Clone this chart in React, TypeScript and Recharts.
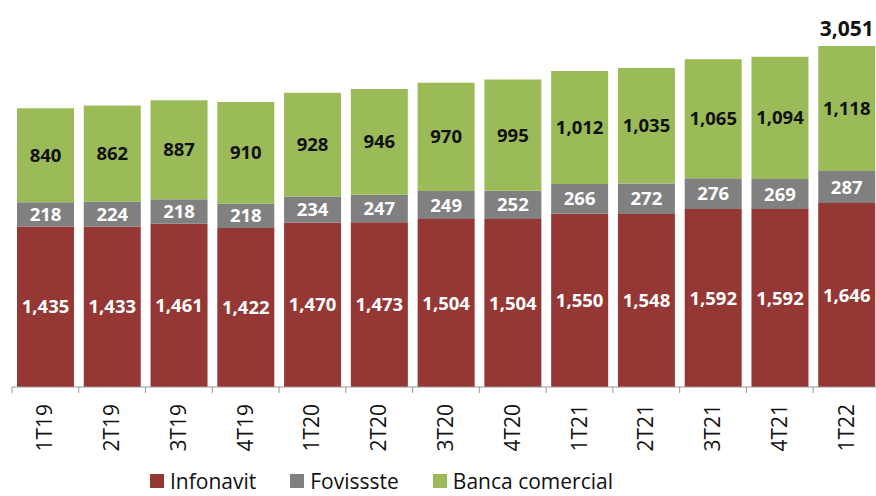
import { BarChart, Bar, XAxis, YAxis, Legend, LabelList } from 'recharts';

const quarters = ['1T19', '2T19', '3T19', '4T19', '1T20', '2T20', '3T20', '4T20', '1T21', '2T21', '3T21', '4T21', '1T22'];
const infonavit = [1435, 1433, 1461, 1422, 1470, 1473, 1504, 1504, 1550, 1548, 1592, 1592, 1646];
const fovissste = [218, 224, 218, 218, 234, 247, 249, 252, 266, 272, 276, 269, 287];
const banca = [840, 862, 887, 910, 928, 946, 970, 995, 1012, 1035, 1065, 1094, 1118];

const seriesNames = ['Infonavit', 'Fovissste', 'Banca comercial'];
const seriesColors = ['#953735', '#808080', '#9BBB59'];

const data = quarters.map((q, i) => ({
  q,
  infonavit: infonavit[i],
  fovissste: fovissste[i],
  banca: banca[i],
  total: infonavit[i] + fovissste[i] + banca[i],
}));

const FONT = '"Open Sans", sans-serif';
const fmt = (v: number) => v.toLocaleString('en-US');

function QuarterTick(props: any) {
  const { x, y, payload, index } = props;
  const half = 33.4;
  return (
    <g>
      <line x1={x - half} y1={y - 8} x2={x - half} y2={y - 2} stroke="#999" />
      {index === quarters.length - 1 && (
        <line x1={x + half} y1={y - 8} x2={x + half} y2={y - 2} stroke="#999" />
      )}
      <text
        x={0}
        y={0}
        transform={`translate(${x + 7},${y + 9}) rotate(-90)`}
        textAnchor="end"
        fontSize={21}
        fontFamily={FONT}
        fill="#111"
      >
        {payload.value}
      </text>
    </g>
  );
}

function TotalLabel(props: any) {
  const { x, y, width, index } = props;
  if (index !== quarters.length - 1) return null;
  return (
    <text x={x + width / 2} y={y - 10} textAnchor="middle" fontSize={21} fontWeight="bold" fontFamily={FONT} fill="#111">
      {fmt(data[index].total)}
    </text>
  );
}

function LegendBox() {
  return (
    <div style={{ display: 'flex', paddingLeft: 138, paddingTop: 11, fontFamily: FONT, fontSize: 21, color: '#111', lineHeight: '26px' }}>
      {seriesNames.map((n, i) => (
        <div key={n} style={{ display: 'flex', alignItems: 'center', marginRight: 34 }}>
          <span style={{ display: 'inline-block', width: 14, height: 14, background: seriesColors[i], marginRight: 6 }} />
          <span>{n}</span>
        </div>
      ))}
    </div>
  );
}

export default function App() {
  return (
    <div style={{ position: 'absolute', left: 0, top: 0, width: 876, height: 496, overflow: 'hidden', background: '#fff' }}>
      <BarChart
        width={880}
        height={496}
        data={data}
        barCategoryGap={5}
        margin={{ top: 45, right: 0, bottom: 0, left: 12 }}
      >
        <XAxis
          dataKey="q"
          height={70}
          stroke="#999"
          tickLine={false}
          tick={<QuarterTick />}
          interval={0}
        />
        <YAxis width={0} tick={false} tickLine={false} stroke="#999" domain={[0, 3060]} />
        <Legend verticalAlign="bottom" align="left" height={39} content={<LegendBox />} />
        <Bar dataKey="infonavit" name="Infonavit" stackId="a" fill={seriesColors[0]} isAnimationActive={false}>
          <LabelList dataKey="infonavit" position="center" formatter={(v: any) => fmt(v)} fill="#fff" fontSize={18.5} fontWeight="bold" fontFamily={FONT} />
        </Bar>
        <Bar dataKey="fovissste" name="Fovissste" stackId="a" fill={seriesColors[1]} isAnimationActive={false}>
          <LabelList dataKey="fovissste" position="center" formatter={(v: any) => fmt(v)} fill="#fff" fontSize={18.5} fontWeight="bold" fontFamily={FONT} />
        </Bar>
        <Bar dataKey="banca" name="Banca comercial" stackId="a" fill={seriesColors[2]} isAnimationActive={false}>
          <LabelList dataKey="banca" position="center" formatter={(v: any) => fmt(v)} fill="#111" fontSize={18.5} fontWeight="bold" fontFamily={FONT} />
          <LabelList dataKey="total" content={<TotalLabel />} />
        </Bar>
      </BarChart>
    </div>
  );
}
